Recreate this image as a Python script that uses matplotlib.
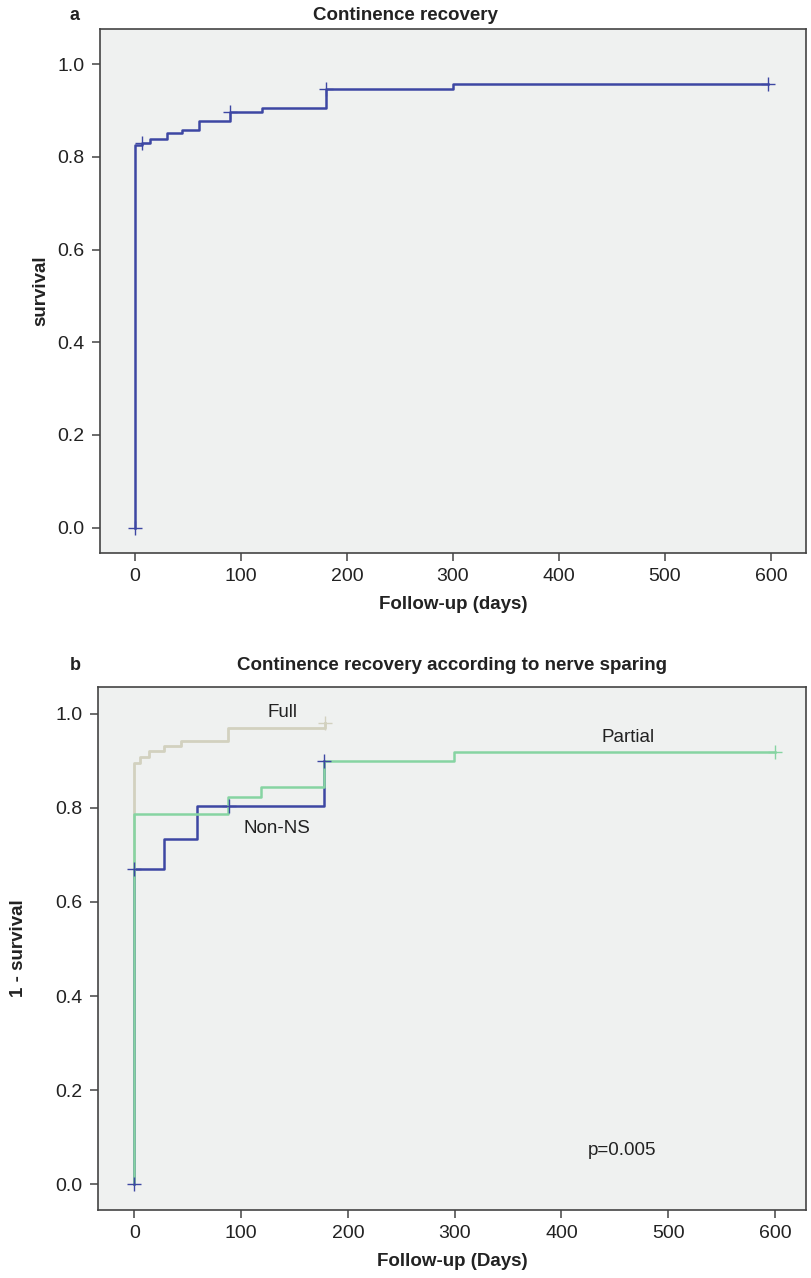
import matplotlib
matplotlib.use("Agg")
import matplotlib.pyplot as plt

plt.rcParams["font.family"] = ["Liberation Sans", "DejaVu Sans"]

# ---- Panel a: overall continence recovery ----
a_days = [0, 0, 7, 14, 30, 44, 60, 90, 120, 180, 300, 597]
a_rate = [0.0, 0.825, 0.830, 0.838, 0.852, 0.858, 0.877, 0.896, 0.905, 0.946, 0.958, 0.958]
a_cens_days = [0, 7, 90, 180, 597]
a_cens_rate = [0.0, 0.830, 0.896, 0.946, 0.958]

# ---- Panel b: by nerve sparing ----
full_days = [0, 0, 5, 14, 28, 44, 88, 179]
full_rate = [0.0, 0.896, 0.908, 0.921, 0.931, 0.943, 0.970, 0.980]
full_cens_days = [179]
full_cens_rate = [0.980]

partial_days = [0, 0, 88, 119, 178, 299, 600]
partial_rate = [0.0, 0.787, 0.824, 0.844, 0.899, 0.919, 0.919]
partial_cens_days = [600]
partial_cens_rate = [0.919]

nonns_days = [0, 0, 28, 59, 178]
nonns_rate = [0.0, 0.670, 0.734, 0.804, 0.900]
nonns_cens_days = [0, 0, 89, 178]
nonns_cens_rate = [0.0, 0.670, 0.804, 0.900]

x_ticks = [0, 100, 200, 300, 400, 500, 600]
y_ticks = [0.0, 0.2, 0.4, 0.6, 0.8, 1.0]

BLUE = "#3d47a3"
BEIGE = "#d2d1bf"
GREEN = "#86d4a2"
BG = "#eff1f0"
TXT = "#222222"

W, H = 811, 1278
fig = plt.figure(figsize=(W / 100, H / 100), dpi=100)
fig.patch.set_facecolor("white")


def px_axes(left, top, right, bottom):
    return fig.add_axes([left / W, 1 - bottom / H, (right - left) / W, (bottom - top) / H])


def style(ax, xlabel, ylabel, ylab_x):
    ax.set_facecolor(BG)
    for s in ax.spines.values():
        s.set_color("#444444")
        s.set_linewidth(1.2)
    ax.set_xticks(x_ticks)
    ax.set_yticks(y_ticks)
    ax.set_yticklabels([f"{v:.1f}" for v in y_ticks])
    ax.tick_params(direction="out", length=6, width=1.1, color="#444444",
                   labelsize=14, labelcolor=TXT, pad=5)
    ax.set_xlabel(xlabel, fontsize=13.5, fontweight="bold", color=TXT, labelpad=8)
    ax.set_ylabel(ylabel, fontsize=13.5, fontweight="bold", color=TXT)
    ax.yaxis.set_label_coords(ylab_x, 0.5)


def censor(ax, xs, ys, color):
    ax.plot(xs, ys, linestyle="none", marker="+", markersize=10,
            markeredgewidth=1.0, color=color, zorder=6)


# Panel a
ax1 = px_axes(100, 29, 806, 553)
ax1.step(a_days, a_rate, where="post", color=BLUE, lw=1.8, zorder=3)
censor(ax1, a_cens_days, a_cens_rate, BLUE)
ax1.set_xlim(-33, 633)
ax1.set_ylim(-0.055, 1.076)
style(ax1, "Follow-up (days)", "survival", -0.071)
fig.text(75 / W, 1 - 15 / H, "a", fontsize=13, fontweight="bold", color=TXT,
         ha="center", va="center")
fig.text(405 / W, 1 - 15 / H, "Continence recovery", fontsize=13.5,
         fontweight="bold", color=TXT, ha="center", va="center")

# Panel b
ax2 = px_axes(98, 687, 806, 1210)
ax2.step(nonns_days, nonns_rate, where="post", color=BLUE, lw=1.8, zorder=3)
ax2.step(full_days, full_rate, where="post", color=BEIGE, lw=2.0, zorder=2)
ax2.step(partial_days, partial_rate, where="post", color=GREEN, lw=1.8, zorder=4)
censor(ax2, full_cens_days, full_cens_rate, BEIGE)
censor(ax2, partial_cens_days, partial_cens_rate, GREEN)
censor(ax2, nonns_cens_days, nonns_cens_rate, BLUE)
ax2.set_xlim(-34, 629)
ax2.set_ylim(-0.055, 1.057)
style(ax2, "Follow-up (Days)", "1 - survival", -0.1)

ax2.text(139, 1.002, "Full", fontsize=13.5, color=TXT, ha="center", va="center")
ax2.text(462, 0.949, "Partial", fontsize=13.5, color=TXT, ha="center", va="center")
ax2.text(134, 0.757, "Non-NS", fontsize=13.5, color=TXT, ha="center", va="center")
ax2.text(457, 0.072, "p=0.005", fontsize=13.5, color=TXT, ha="center", va="center")

fig.text(75 / W, 1 - 666 / H, "b", fontsize=13, fontweight="bold", color=TXT,
         ha="center", va="center")
fig.text(452 / W, 1 - 666 / H, "Continence recovery according to nerve sparing",
         fontsize=13.5, fontweight="bold", color=TXT, ha="center", va="center")

fig.savefig("out.png", dpi=100)
